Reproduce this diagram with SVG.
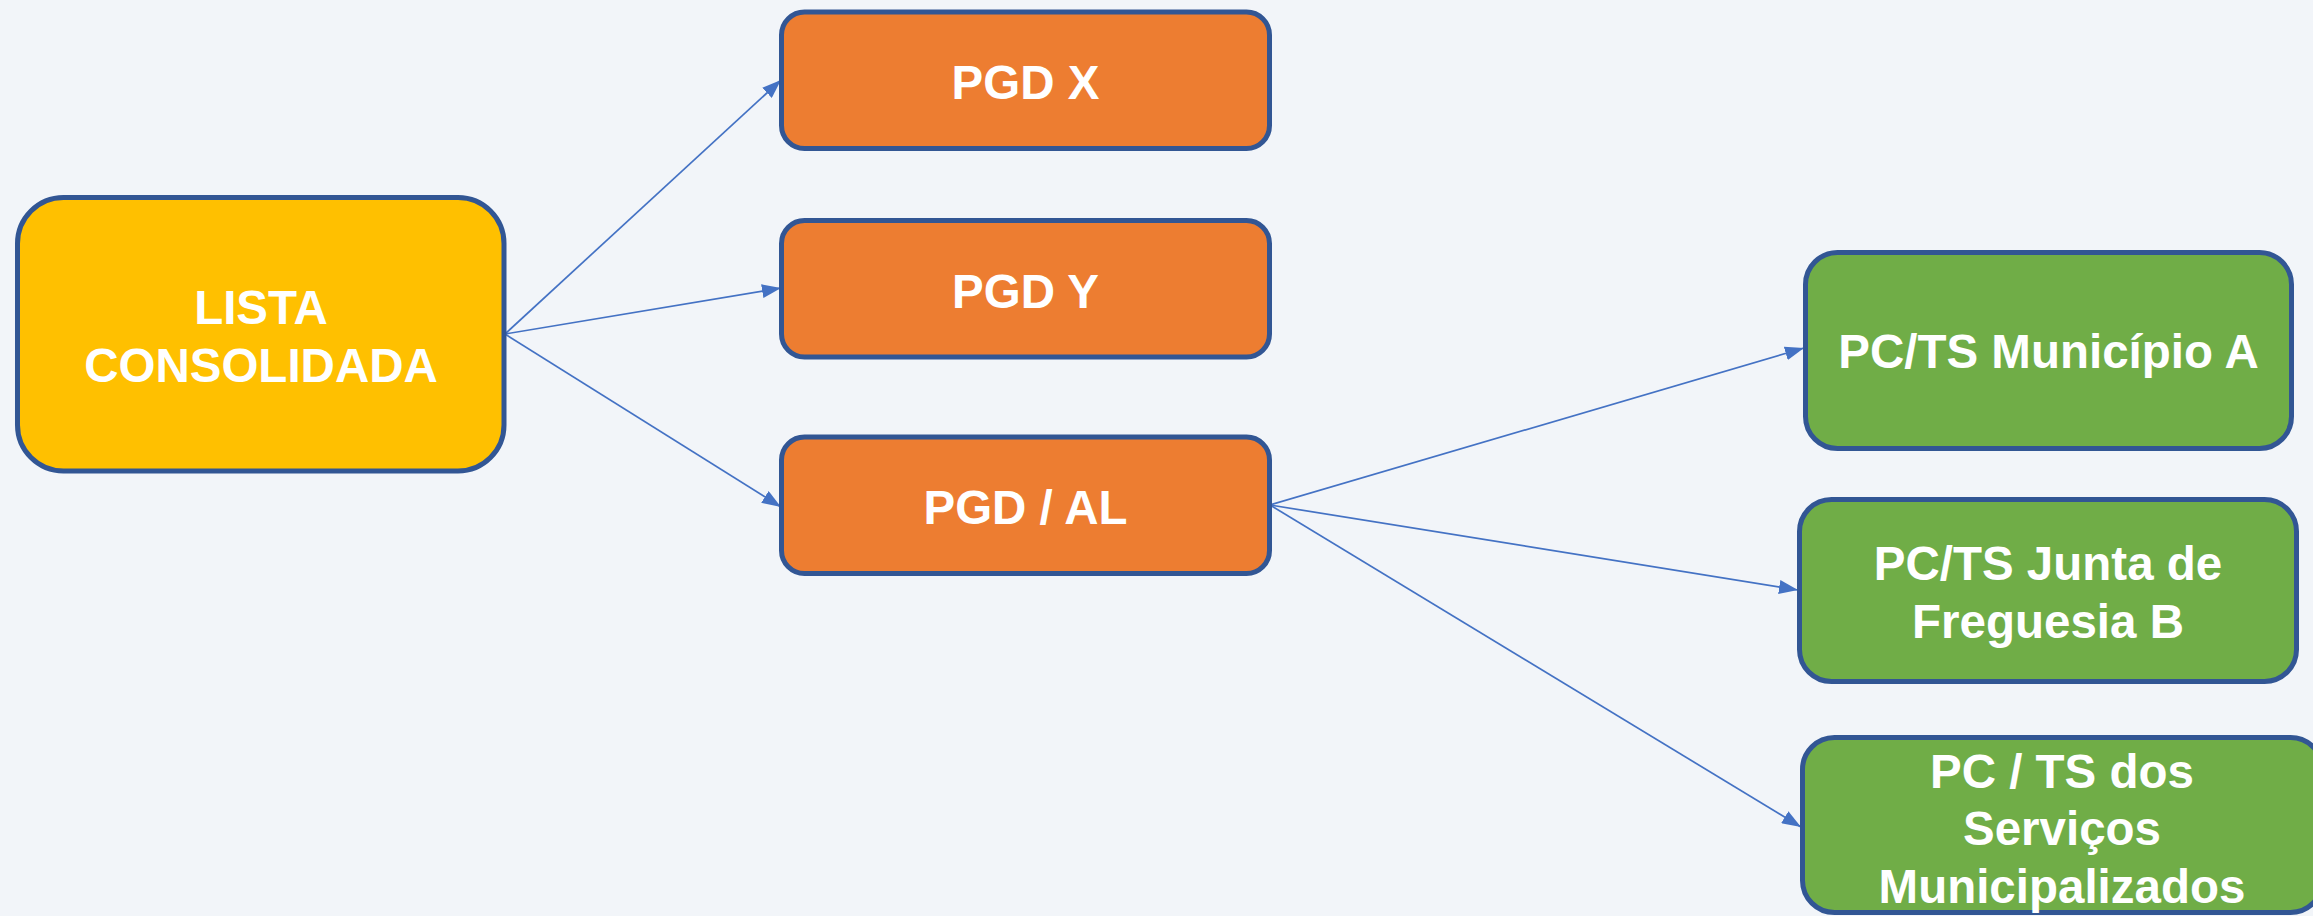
<svg xmlns="http://www.w3.org/2000/svg" width="2313" height="916" viewBox="0 0 2313 916">
<style>
.box{stroke:#325694;stroke-width:5}
.yellow{fill:#FFC000}
.orange{fill:#ED7D31}
.green{fill:#70AD47}
.lbl{font-family:"Liberation Sans",Arial,sans-serif;font-weight:bold;font-size:47.5px;fill:#FFFFFF;text-anchor:middle}
.conn{stroke:#4472C4;stroke-width:1.7;fill:none;marker-end:url(#arrow)}
</style>
<defs>
<marker id="arrow" viewBox="0 0 19 14" refX="19" refY="7" markerWidth="19" markerHeight="14" markerUnits="userSpaceOnUse" orient="auto">
<path d="M0,0 L19,7 L0,14 z" fill="#4472C4"/>
</marker>
</defs>
<rect x="0" y="0" width="2313" height="916" fill="#F2F5F9"/>
<g id="connectors">
<line class="conn" x1="505" y1="334" x2="781" y2="80"/>
<line class="conn" x1="505" y1="334" x2="781" y2="288"/>
<line class="conn" x1="505" y1="334" x2="781" y2="507"/>
<line class="conn" x1="1270" y1="505" x2="1804" y2="348"/>
<line class="conn" x1="1270" y1="505" x2="1798" y2="590"/>
<line class="conn" x1="1270" y1="505" x2="1801" y2="827"/>
</g>
<g id="lista">
<rect class="box yellow" x="17.5" y="197.5" width="486.5" height="273.5" rx="46"/>
<text class="lbl" x="261" y="324">LISTA</text>
<text class="lbl" x="261" y="382">CONSOLIDADA</text>
</g>
<g id="pgdx">
<rect class="box orange" x="781.5" y="12" width="488" height="136.5" rx="23"/>
<text class="lbl" x="1025.5" y="99">PGD X</text>
</g>
<g id="pgdy">
<rect class="box orange" x="781.5" y="220.5" width="488" height="136.5" rx="23"/>
<text class="lbl" x="1025.5" y="307.5">PGD Y</text>
</g>
<g id="pgdal">
<rect class="box orange" x="781.5" y="437" width="488" height="136.5" rx="23"/>
<text class="lbl" x="1025.5" y="523.5">PGD / AL</text>
</g>
<g id="municipio">
<rect class="box green" x="1805.5" y="252.5" width="486" height="196" rx="32"/>
<text class="lbl" x="2048.5" y="368">PC/TS Município A</text>
</g>
<g id="junta">
<rect class="box green" x="1799.5" y="499.5" width="497" height="182" rx="32"/>
<text class="lbl" x="2048" y="580">PC/TS Junta de</text>
<text class="lbl" x="2048" y="638">Freguesia B</text>
</g>
<g id="servicos">
<rect class="box green" x="1802.5" y="737.5" width="520" height="175" rx="32"/>
<text class="lbl" x="2062" y="788">PC / TS dos</text>
<text class="lbl" x="2062" y="845">Serviços</text>
<text class="lbl" x="2062" y="903">Municipalizados</text>
</g>
</svg>
